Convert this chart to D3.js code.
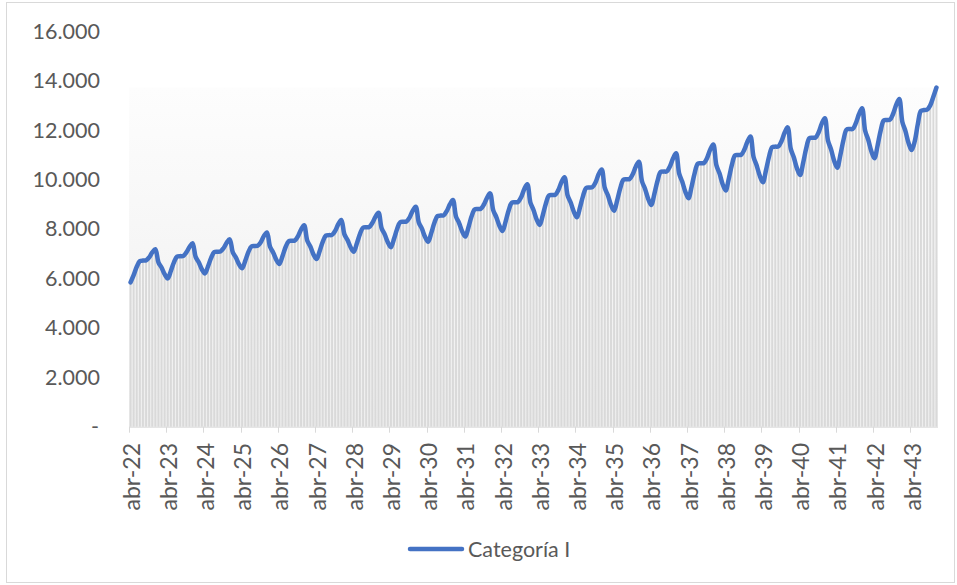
<!DOCTYPE html>
<html><head><meta charset="utf-8">
<script src="https://cdn.jsdelivr.net/npm/d3@7"></script>
<style>
body{margin:0;background:#fff}
svg{display:block}
text{font-family:Lato,"Open Sans",sans-serif;fill:#595959}
</style>
</head><body>
<svg id="chart" width="957" height="585"></svg>
<script>
// ---- data ----
const monthNames = ["ene","feb","mar","abr","may","jun","jul","ago","sep","oct","nov","dic"];
const firstYear = 22, firstMonth = 3; // abr-22
const seriesName = "Categoría I";
const values = [
  5840, 6130, 6470, 6700, 6720, 6730, 6850, 7050, 7180, 6650, 6440, 6170,
  6000, 6300, 6650, 6880, 6900, 6910, 7050, 7270, 7420, 6870, 6650, 6370,
  6200, 6490, 6830, 7060, 7080, 7090, 7220, 7440, 7580, 7050, 6840, 6570,
  6410, 6710, 7060, 7290, 7310, 7320, 7460, 7710, 7860, 7280, 7050, 6760,
  6580, 6890, 7260, 7500, 7520, 7530, 7700, 7970, 8150, 7530, 7290, 6970,
  6780, 7100, 7480, 7730, 7750, 7760, 7920, 8190, 8360, 7780, 7550, 7260,
  7080, 7410, 7790, 8050, 8070, 8080, 8240, 8490, 8660, 8030, 7780, 7460,
  7260, 7600, 8000, 8270, 8290, 8300, 8460, 8730, 8900, 8260, 8010, 7680,
  7480, 7830, 8240, 8520, 8540, 8550, 8720, 8990, 9170, 8500, 8240, 7900,
  7690, 8060, 8500, 8790, 8810, 8820, 8990, 9260, 9440, 8760, 8480, 8130,
  7920, 8300, 8760, 9060, 9080, 9090, 9280, 9610, 9810, 9070, 8770, 8390,
  8160, 8560, 9030, 9350, 9370, 9380, 9570, 9890, 10090, 9360, 9070, 8700,
  8470, 8870, 9340, 9660, 9680, 9690, 9880, 10210, 10410, 9660, 9360, 8970,
  8740, 9160, 9650, 9990, 10010, 10020, 10210, 10520, 10720, 9930, 9620, 9220,
  8970, 9420, 9940, 10300, 10320, 10330, 10530, 10850, 11060, 10240, 9910, 9500,
  9240, 9710, 10260, 10640, 10660, 10670, 10870, 11210, 11420, 10580, 10250, 9820,
  9560, 10030, 10590, 10970, 10990, 11000, 11200, 11530, 11740, 10910, 10570, 10150,
  9890, 10370, 10930, 11310, 11330, 11340, 11550, 11890, 12110, 11240, 10890, 10450,
  10180, 10680, 11270, 11670, 11690, 11700, 11910, 12260, 12480, 11580, 11220, 10760,
  10480, 10990, 11600, 12020, 12040, 12050, 12280, 12640, 12880, 11970, 11610, 11140,
  10860, 11370, 11980, 12390, 12410, 12420, 12650, 13020, 13260, 12330, 11960, 11480,
  11190, 11550, 12250, 12780, 12810, 12830, 13000, 13350, 13720
];
const categories = values.map((v, i) => {
  const m = firstMonth + i;
  return monthNames[m % 12] + "-" + (firstYear + Math.floor(m / 12));
});
const tickLabels = categories.filter(c => c.startsWith("abr-"));
const yTicks = [0, 2000, 4000, 6000, 8000, 10000, 12000, 14000, 16000];

// ---- layout ----
const W = 957, H = 585;
const plot = {left: 129, right: 938, top: 31.2, bottom: 426.7};
const svg = d3.select("#chart");

const x = d3.scaleBand().domain(categories).range([plot.left, plot.right]).paddingInner(0.38).paddingOuter(0.19);
const y = d3.scaleLinear().domain([0, 16000]).range([plot.bottom, plot.top]);
const cx = c => x(c) + x.bandwidth() / 2;
const gapHalf = (x.step() - x.bandwidth()) / 2;

// chart border
svg.append("rect").attr("x", 6.5).attr("y", 2.5).attr("width", W - 9).attr("height", H - 5)
  .attr("fill", "#fff").attr("stroke", "#d9d9d9").attr("stroke-width", 1);

// gradient
const defs = svg.append("defs");
const g1 = defs.append("linearGradient").attr("id", "bg").attr("x1", 0).attr("y1", 0).attr("x2", 0).attr("y2", 1);
g1.append("stop").attr("offset", "0%").attr("stop-color", "#fdfdfd");
g1.append("stop").attr("offset", "100%").attr("stop-color", "#eeeeee");

const maxV = d3.max(values);
svg.append("rect")
  .attr("x", x(categories[0]) - gapHalf)
  .attr("width", x(categories[categories.length - 1]) + x.bandwidth() + gapHalf - (x(categories[0]) - gapHalf))
  .attr("y", y(maxV)).attr("height", y(0) - y(maxV))
  .attr("fill", "url(#bg)");

// bars
svg.append("g").selectAll("rect").data(values).join("rect")
  .attr("x", (d, i) => x(categories[i]))
  .attr("width", x.bandwidth())
  .attr("y", d => y(d))
  .attr("height", d => y(0) - y(d))
  .attr("fill", "#d9d9d9");

// x axis line
svg.append("line").attr("x1", plot.left).attr("x2", plot.right)
  .attr("y1", plot.bottom + 0.5).attr("y2", plot.bottom + 0.5)
  .attr("stroke", "#d9d9d9").attr("stroke-width", 1);

// ticks
const tickG = svg.append("g");
tickG.selectAll("line").data(tickLabels).join("line")
  .attr("x1", c => Math.round(x(c) - gapHalf) + 0.5)
  .attr("x2", c => Math.round(x(c) - gapHalf) + 0.5)
  .attr("y1", plot.bottom).attr("y2", plot.bottom + 6)
  .attr("stroke", "#d9d9d9").attr("stroke-width", 1);

tickG.selectAll("text").data(tickLabels).join("text")
  .attr("transform", c => `translate(${cx(c) + 1},443) rotate(-90)`)
  .attr("text-anchor", "end")
  .attr("dy", "0.35em")
  .style("font-size", "23px")
  .text(c => c);

// y labels
const fmt = v => v === 0 ? "-" : d3.format(",")(v).replace(/,/g, ".");
svg.append("g").selectAll("text").data(yTicks).join("text")
  .attr("x", d => d === 0 ? 99 : 100)
  .attr("y", d => y(d))
  .attr("dy", "0.35em")
  .attr("text-anchor", "end")
  .style("font-size", "21.5px")
  .text(fmt);

// line
const line = d3.line()
  .x((d, i) => cx(categories[i]))
  .y(d => y(d))
  .curve(d3.curveCatmullRom.alpha(0.5));
svg.append("path").datum(values)
  .attr("d", line)
  .attr("fill", "none")
  .attr("stroke", "#4472c4")
  .attr("stroke-width", 4.5)
  .attr("stroke-linejoin", "round")
  .attr("stroke-linecap", "round");

// legend
const lg = svg.append("g");
lg.append("line").attr("x1", 410).attr("x2", 462).attr("y1", 549).attr("y2", 549)
  .attr("stroke", "#4472c4").attr("stroke-width", 4.5).attr("stroke-linecap", "round");
lg.append("text").attr("x", 468).attr("y", 549).attr("dy", "0.35em")
  .style("font-size", "21.5px").text(seriesName);
</script>
</body></html>
